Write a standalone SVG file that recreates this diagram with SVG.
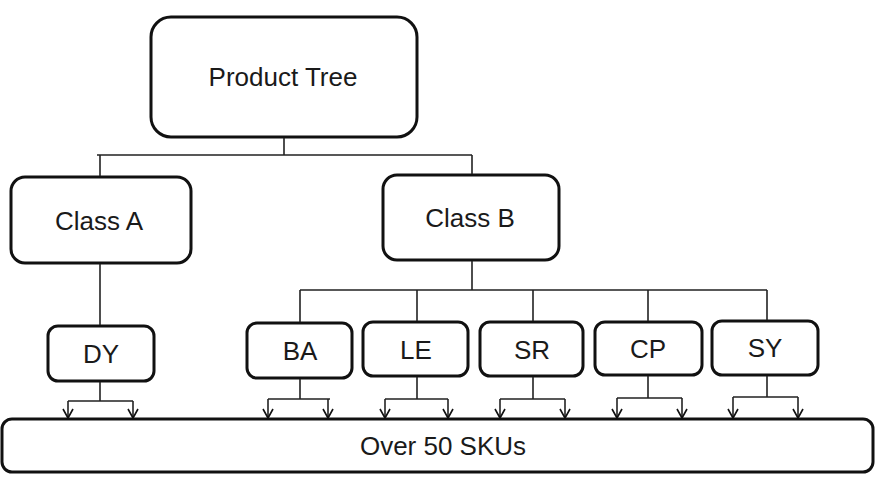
<svg xmlns="http://www.w3.org/2000/svg" width="883" height="477" viewBox="0 0 883 477">
<defs>
<marker id="arr" viewBox="0 0 12 12" refX="10" refY="6" markerWidth="12" markerHeight="12" markerUnits="userSpaceOnUse" orient="auto">
<path d="M1,1 L10,6 L1,11" fill="none" stroke="#111" stroke-width="1.6"/>
</marker>
<style>
.box{fill:#fff;stroke:#111;stroke-width:3}
.lbl{font-family:"Liberation Sans",Arial,sans-serif;font-size:26px;fill:#1a1a1a;text-anchor:middle;dominant-baseline:central}
.ln{fill:none;stroke:#222;stroke-width:1.6}
.ar{fill:none;stroke:#222;stroke-width:1.6;marker-end:url(#arr)}
</style>
</defs>
<rect width="883" height="477" fill="#fff"/>
<g id="product-tree"><rect class="box" x="151" y="17" width="266" height="120" rx="20"/><text class="lbl" x="283" y="77" font-size="27">Product Tree</text></g>
<g id="class-a"><rect class="box" x="11" y="177" width="180" height="86" rx="14"/><text class="lbl" x="99" y="221">Class A</text></g>
<g id="class-b"><rect class="box" x="383" y="175" width="176" height="85" rx="14"/><text class="lbl" x="470" y="218">Class B</text></g>
<g id="dy"><rect class="box" x="48" y="326" width="106" height="55" rx="10"/><text class="lbl" x="101" y="354">DY</text></g>
<g id="ba"><rect class="box" x="247" y="323" width="105" height="55" rx="10"/><text class="lbl" x="300" y="351">BA</text></g>
<g id="le"><rect class="box" x="363" y="322" width="105" height="54" rx="10"/><text class="lbl" x="416" y="350">LE</text></g>
<g id="sr"><rect class="box" x="480" y="322" width="103" height="54" rx="10"/><text class="lbl" x="532" y="350">SR</text></g>
<g id="cp"><rect class="box" x="595" y="322" width="107" height="53" rx="10"/><text class="lbl" x="648" y="349">CP</text></g>
<g id="sy"><rect class="box" x="712" y="321" width="106" height="54" rx="10"/><text class="lbl" x="765" y="348">SY</text></g>
<g id="skus"><rect class="box" x="2" y="419" width="871" height="53" rx="10"/><text class="lbl" x="443" y="446" font-size="25">Over 50 SKUs</text></g>
<g id="connectors">
<path class="ln" d="M284,138 V155 M97,155 H472 M100,155 V176 M472,155 V174"/>
<path class="ln" d="M100,264 V325"/>
<path class="ln" d="M472,261 V290 M300,290 H767 M300,290 V322 M417,290 V321 M533,290 V321 M648,290 V321 M767,290 V320"/>
<path class="ln" d="M100,382 V401 M68,401 H133 M300,379 V399 M268,399 H330 M417,377 V399 M385,399 H448 M533,377 V399 M500,399 H565 M648,376 V398 M617,398 H682 M767,376 V397 M733,397 H798"/>
<path class="ar" d="M68,401 V418"/>
<path class="ar" d="M133,401 V418"/>
<path class="ar" d="M268,399 V418"/>
<path class="ar" d="M328,399 V418"/>
<path class="ar" d="M385,399 V418"/>
<path class="ar" d="M448,399 V418"/>
<path class="ar" d="M500,399 V418"/>
<path class="ar" d="M565,399 V418"/>
<path class="ar" d="M617,398 V418"/>
<path class="ar" d="M682,398 V418"/>
<path class="ar" d="M733,397 V418"/>
<path class="ar" d="M798,397 V418"/>
</g>
</svg>
